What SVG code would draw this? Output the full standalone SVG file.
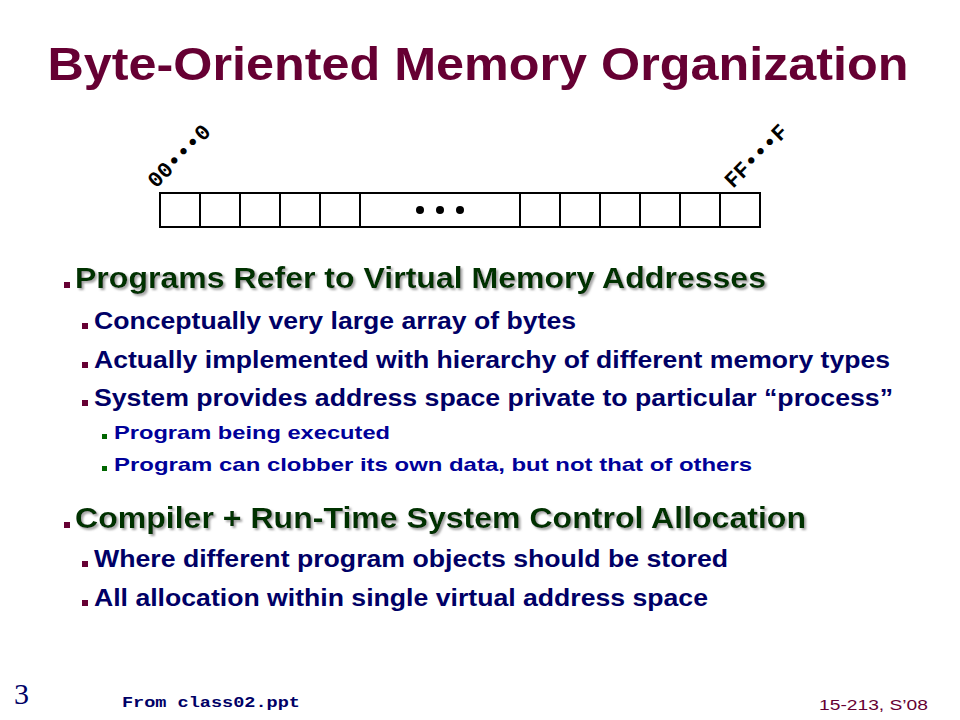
<svg xmlns="http://www.w3.org/2000/svg" width="960" height="720" viewBox="0 0 960 720">
<defs>
<filter id="shadow" x="-5%" y="-30%" width="110%" height="160%">
<feDropShadow dx="2" dy="2" stdDeviation="0.8" flood-color="#9a9a9a" flood-opacity="0.9"/>
</filter>
<style>
.title{font-family:"Liberation Sans",Arial,sans-serif;font-weight:bold;font-size:47px;fill:#660033}
.h1{font-family:"Liberation Sans",Arial,sans-serif;font-weight:bold;font-size:29px;fill:#003300;filter:url(#shadow)}
.l2{font-family:"Liberation Sans",Arial,sans-serif;font-weight:bold;font-size:23px;fill:#000066}
.l3{font-family:"Liberation Sans",Arial,sans-serif;font-weight:bold;font-size:19px;fill:#000099}
.addr{font-family:"Liberation Mono","Courier New",monospace;font-weight:bold;font-size:22px;fill:#000000}
.cell{fill:#ffffff;stroke:#000000;stroke-width:2}
.bm{fill:#660033}
.bg{fill:#006600}
</style>
</defs>
<rect width="960" height="720" fill="#ffffff"/>
<g id="title"><text class="title" x="478" y="80" text-anchor="middle" textLength="861" lengthAdjust="spacingAndGlyphs">Byte-Oriented Memory Organization</text></g>
<g id="memory-array">
<rect class="cell" x="160" y="193" width="40" height="34"/>
<rect class="cell" x="200" y="193" width="40" height="34"/>
<rect class="cell" x="240" y="193" width="40" height="34"/>
<rect class="cell" x="280" y="193" width="40" height="34"/>
<rect class="cell" x="320" y="193" width="40" height="34"/>
<rect class="cell" x="360" y="193" width="160" height="34"/>
<rect class="cell" x="520" y="193" width="40" height="34"/>
<rect class="cell" x="560" y="193" width="40" height="34"/>
<rect class="cell" x="600" y="193" width="40" height="34"/>
<rect class="cell" x="640" y="193" width="40" height="34"/>
<rect class="cell" x="680" y="193" width="40" height="34"/>
<rect class="cell" x="720" y="193" width="40" height="34"/>
<circle cx="420" cy="210" r="4"/>
<circle cx="440" cy="210" r="4"/>
<circle cx="460" cy="210" r="4"/>
</g>
<g id="addr-low"><text class="addr" transform="translate(156,189) rotate(-45)">00•••0</text></g>
<g id="addr-high"><text class="addr" transform="translate(733,189) rotate(-45)">FF•••F</text></g>
<g id="connectors"></g>
<g id="bullets">
<rect class="bm" x="64" y="282" width="6" height="6"/>
<text class="h1" x="75" y="288" textLength="691" lengthAdjust="spacingAndGlyphs">Programs Refer to Virtual Memory Addresses</text>
<rect class="bm" x="82" y="323" width="6" height="6"/>
<text class="l2" x="94" y="329" textLength="482" lengthAdjust="spacingAndGlyphs">Conceptually very large array of bytes</text>
<rect class="bm" x="82" y="362" width="6" height="6"/>
<text class="l2" x="94" y="368" textLength="796" lengthAdjust="spacingAndGlyphs">Actually implemented with hierarchy of different memory types</text>
<rect class="bm" x="82" y="400" width="6" height="6"/>
<text class="l2" x="94" y="406" textLength="799" lengthAdjust="spacingAndGlyphs">System provides address space private to particular “process”</text>
<rect class="bg" x="102" y="434" width="5" height="5"/>
<text class="l3" x="114" y="439" textLength="276" lengthAdjust="spacingAndGlyphs">Program being executed</text>
<rect class="bg" x="102" y="466" width="5" height="5"/>
<text class="l3" x="114" y="471" textLength="638" lengthAdjust="spacingAndGlyphs">Program can clobber its own data, but not that of others</text>
<rect class="bm" x="64" y="522" width="6" height="6"/>
<text class="h1" x="75" y="528" textLength="731" lengthAdjust="spacingAndGlyphs">Compiler + Run-Time System Control Allocation</text>
<rect class="bm" x="82" y="561" width="6" height="6"/>
<text class="l2" x="94" y="567" textLength="634" lengthAdjust="spacingAndGlyphs">Where different program objects should be stored</text>
<rect class="bm" x="82" y="600" width="6" height="6"/>
<text class="l2" x="94" y="606" textLength="614" lengthAdjust="spacingAndGlyphs">All allocation within single virtual address space</text>
</g>
<g id="footer">
<text x="14" y="704" font-family="Liberation Serif,'Times New Roman',serif" font-size="30" fill="#000066">3</text>
<text x="122" y="707" font-family="Liberation Mono,'Courier New',monospace" font-weight="bold" font-size="15" fill="#000066" textLength="178" lengthAdjust="spacingAndGlyphs">From class02.ppt</text>
<text x="819" y="710" font-family="Liberation Sans,Arial,sans-serif" font-size="15" fill="#660033" textLength="109" lengthAdjust="spacingAndGlyphs">15-213, S’08</text>
</g>
</svg>
